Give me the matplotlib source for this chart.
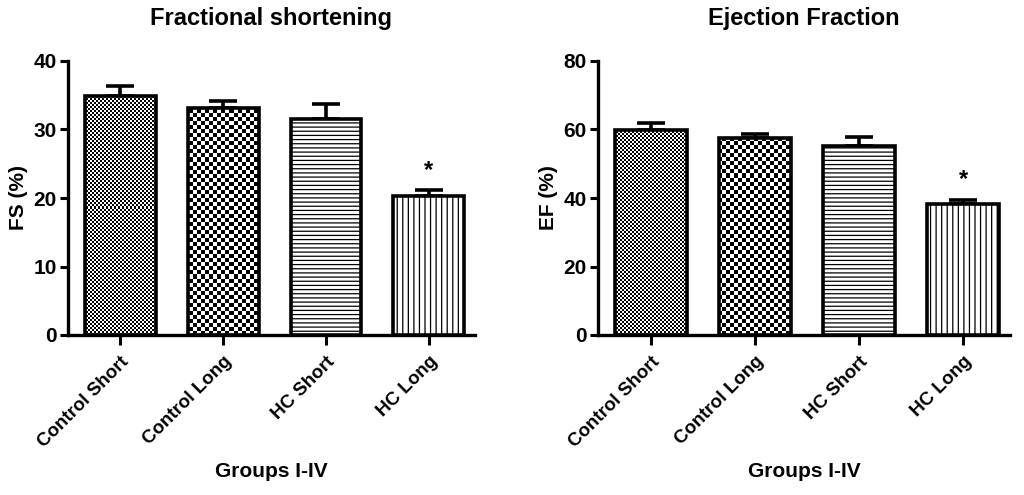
import numpy as np
import matplotlib.pyplot as plt

plt.rcParams['font.family'] = ['Liberation Sans', 'DejaVu Sans']
plt.rcParams['font.weight'] = 'bold'
plt.rcParams['hatch.linewidth'] = 0.9

groups = ["Control Short", "Control Long", "HC Short", "HC Long"]

fs_mean = [34.9, 33.1, 31.6, 20.3]
fs_err = [1.5, 1.0, 2.1, 0.9]

ef_mean = [59.8, 57.4, 55.1, 38.2]
ef_err = [2.2, 1.4, 2.8, 1.3]

sig = [False, False, False, True]


def checker(ax, cell):
    # 棋盤格圖樣，用整個 axes 大小，後面再用 bar 剪裁
    bb = ax.get_window_extent()
    nx = int(bb.width / cell)
    ny = int(bb.height / cell)
    ii, jj = np.meshgrid(np.arange(nx), np.arange(ny))
    return ((ii + jj) % 2).astype(float)


def panel(ax, means, errs, title, ylabel, ymax, step):
    x = np.arange(len(groups))
    bars = ax.bar(x, means, width=0.69, color="white", edgecolor="black",
                  linewidth=2.6, zorder=3)
    ax.errorbar(x, means, yerr=[np.zeros(len(errs)), errs], fmt="none",
                ecolor="black", elinewidth=2.6, capsize=10, capthick=2.6,
                zorder=2)

    bars[2].set_hatch("----")
    bars[3].set_hatch("|||")

    ax.set_xlim(-0.51, 3.45)
    ax.set_ylim(0, ymax)

    # 前兩個 bar 用棋盤格填滿
    for i, cell, cmin in [(0, 2, 0.35), (1, 4, 0.0)]:
        bars[i].set_facecolor("none")
        img = checker(ax, cell)
        im = ax.imshow(img, extent=[0, 1, 0, 1], transform=ax.transAxes,
                       cmap="gray", vmin=cmin, vmax=1,
                       interpolation="nearest", aspect="auto", zorder=2.5)
        im.set_clip_path(bars[i])

    ax.set_xlim(-0.51, 3.45)
    ax.set_ylim(0, ymax)

    for i in range(len(groups)):
        if sig[i]:
            ax.text(x[i], means[i] + errs[i] + ymax * 0.03, "*",
                    ha="center", va="bottom", fontsize=17, fontweight="bold")

    ax.set_xticks(x)
    ax.set_xticklabels(groups, rotation=45, ha="right",
                       rotation_mode="anchor", fontsize=13.5)
    ax.set_yticks(np.arange(0, ymax + 1, step))
    ax.tick_params(axis="y", labelsize=15, width=2.2, length=6, pad=2)
    ax.tick_params(axis="x", width=2.2, length=7, pad=6)

    ax.spines["top"].set_visible(False)
    ax.spines["right"].set_visible(False)
    ax.spines["left"].set_linewidth(2.4)
    ax.spines["bottom"].set_linewidth(2.4)

    ax.set_title(title, fontsize=17, fontweight="bold", pad=26)
    ax.set_ylabel(ylabel, fontsize=15, fontweight="bold", labelpad=4)
    ax.set_xlabel("Groups I-IV", fontsize=15, fontweight="bold", labelpad=8)


fig = plt.figure(figsize=(10.24, 4.95), dpi=100)
ax1 = fig.add_axes([68 / 1024, 1 - 335 / 495, 407 / 1024, 274 / 495])
ax2 = fig.add_axes([598 / 1024, 1 - 335 / 495, 412 / 1024, 274 / 495])

panel(ax1, fs_mean, fs_err, "Fractional shortening", "FS (%)", 40, 10)
panel(ax2, ef_mean, ef_err, "Ejection Fraction", "EF (%)", 80, 20)

fig.savefig("out.png", dpi=100)
